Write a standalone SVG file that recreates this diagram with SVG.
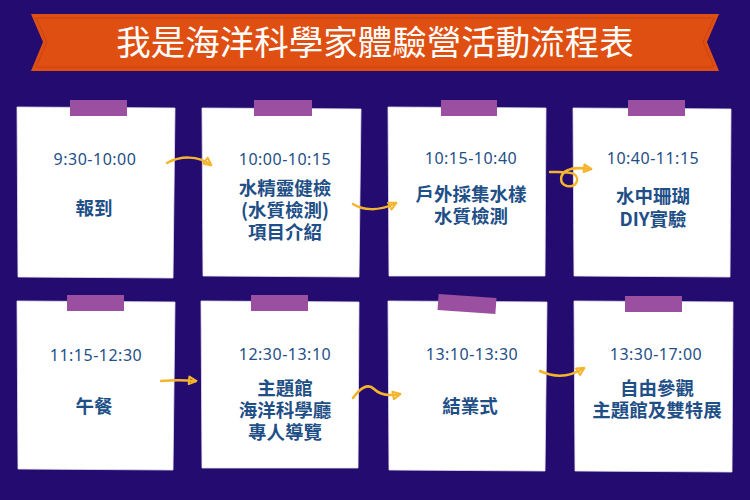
<svg xmlns="http://www.w3.org/2000/svg" width="750" height="500" viewBox="0 0 750 500">
<defs>
<style>
.card{fill:#ffffff;stroke:#e6e2f0;stroke-width:0.8}
.tape{fill:#9b4fa0}
.time{font-family:"Noto Sans","Open Sans",sans-serif;font-size:16px;letter-spacing:0.5px;fill:#1f4f87;text-anchor:middle}
.lbl{font-family:"Noto Sans CJK TC","Noto Sans",sans-serif;font-size:18.5px;font-weight:700;fill:#1f4f87;text-anchor:middle}
.title{font-family:"Noto Sans CJK TC","Noto Sans",sans-serif;font-size:34.5px;fill:#ffffff;text-anchor:middle}
.arrow{fill:none;stroke:#f4b52c;stroke-width:2.5;stroke-linecap:round;marker-end:url(#ah)}
</style>
<marker id="ah" viewBox="0 0 10 10" refX="8.5" refY="5" markerWidth="10" markerHeight="10" markerUnits="userSpaceOnUse" orient="auto">
<path d="M1.5,1.2 L9,5 L1.5,8.8 Z" fill="none" stroke="#f4b52c" stroke-width="2" stroke-linejoin="round"/>
</marker>
</defs>
<rect width="750" height="500" fill="#240b6f"/>

<g id="banner">
<polygon points="31,14 719,14 707,42 719,71 31,71 43,42" fill="#e04f12"/>
<polygon points="36,18 714,18 703,42 714,67 36,67 47,42" fill="none" stroke="#b83a1c" stroke-width="1" opacity="0.6"/>
<text class="title" x="375" y="55">我是海洋科學家體驗營活動流程表</text>
</g>

<g id="node1">
<polygon class="card" points="17,107 175,108 173,278 18,277"/>
<rect class="tape" x="70" y="100" width="57" height="16"/>
<text class="time" x="95" y="165">9:30-10:00</text>
<text class="lbl" x="94" y="215">報到</text>
</g>

<g id="node2">
<polygon class="card" points="202,108 361,109 359,277 203,276"/>
<rect class="tape" x="254" y="100" width="58" height="16"/>
<text class="time" x="285" y="165">10:00-10:15</text>
<text class="lbl" x="285" y="195">水精靈健檢<tspan x="285" dy="22">(水質檢測)</tspan><tspan x="285" dy="22">項目介紹</tspan></text>
</g>

<g id="node3">
<polygon class="card" points="388,107 546,108 545,276 389,276"/>
<rect class="tape" x="441" y="100" width="56" height="16"/>
<text class="time" x="471" y="164">10:15-10:40</text>
<text class="lbl" x="471" y="201">戶外採集水樣<tspan x="471" dy="22">水質檢測</tspan></text>
</g>

<g id="node4">
<polygon class="card" points="573,108 731,109 730,277 574,276"/>
<rect class="tape" x="628" y="100" width="57" height="16"/>
<text class="time" x="653" y="164">10:40-11:15</text>
<text class="lbl" x="653" y="203">水中珊瑚<tspan x="653" dy="23">DIY實驗</tspan></text>
</g>

<g id="node5">
<polygon class="card" points="17,301 175,302 173,470 18,469"/>
<rect class="tape" x="67" y="295" width="57" height="16"/>
<text class="time" x="96" y="361">11:15-12:30</text>
<text class="lbl" x="94" y="413">午餐</text>
</g>

<g id="node6">
<polygon class="card" points="201,301 359,302 358,468 202,468"/>
<rect class="tape" x="251" y="295" width="57" height="16"/>
<text class="time" x="285" y="360">12:30-13:10</text>
<text class="lbl" x="285" y="395">主題館<tspan x="285" dy="22">海洋科學廳</tspan><tspan x="285" dy="22">專人導覽</tspan></text>
</g>

<g id="node7">
<polygon class="card" points="388,301 547,302 545,471 389,470"/>
<rect class="tape" x="438" y="296" width="58" height="16" transform="rotate(4 467 304)"/>
<text class="time" x="472" y="360">13:10-13:30</text>
<text class="lbl" x="470" y="413">結業式</text>
</g>

<g id="node8">
<polygon class="card" points="574,301 733,302 732,472 575,471"/>
<rect class="tape" x="625" y="296" width="57" height="16"/>
<text class="time" x="656" y="360">13:30-17:00</text>
<text class="lbl" x="657" y="395">自由參觀<tspan x="657" dy="22">主題館及雙特展</tspan></text>
</g>

<g id="connectors">
<path class="arrow" d="M167,163 C180,156 198,155 211,165"/>
<path class="arrow" d="M353,204 C362,210 378,212 396,203"/>
<path class="arrow" d="M550,172 C558,172 568,171 574,174 C580,178 577,188 567,186 C559,184 559,174 568,170 C574,167 582,168 591,169"/>
<path class="arrow" d="M161,381 C172,380 185,380 196,381"/>
<path class="arrow" d="M353,398 C360,388 368,383 374,389 C381,396 390,396 400,394"/>
<path class="arrow" d="M540,371 C555,378 570,377 584,368"/>
</g>
</svg>
